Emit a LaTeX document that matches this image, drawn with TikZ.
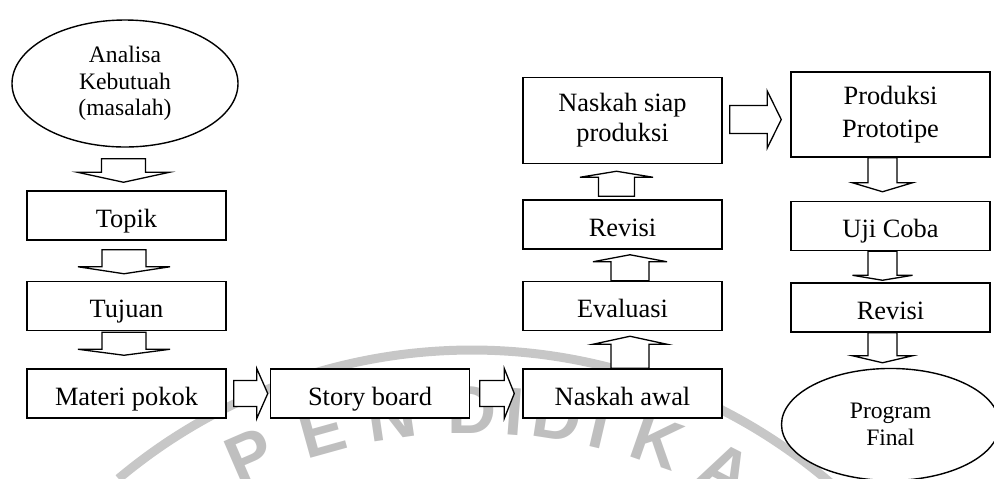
\documentclass[tikz,border=0pt]{standalone}
\usepackage{fontspec}
\setmainfont{Liberation Serif}
\newfontfamily\wmfont{Liberation Sans}
\usetikzlibrary{positioning,calc,shapes.geometric}

% block arrows: start point, tip point, stem half width, head half width, head length
\newcommand{\vblock}[5]{%
  \draw[blockarrow] let \p1 = (#1), \p2 = (#2), \n1 = {sign(\y2-\y1)} in
    (\x1-#3,\y1) -- (\x1+#3,\y1) -- (\x1+#3,\y2-\n1*#5) -- (\x1+#4,\y2-\n1*#5)
    -- (\x1,\y2) -- (\x1-#4,\y2-\n1*#5) -- (\x1-#3,\y2-\n1*#5) -- cycle;}
\newcommand{\hblock}[5]{%
  \draw[blockarrow] let \p1 = (#1), \p2 = (#2), \n1 = {sign(\x2-\x1)} in
    (\x1,\y1-#3) -- (\x1,\y1+#3) -- (\x2-\n1*#5,\y1+#3) -- (\x2-\n1*#5,\y1+#4)
    -- (\x2,\y1) -- (\x2-\n1*#5,\y1-#4) -- (\x2-\n1*#5,\y1-#3) -- cycle;}

\begin{document}
\begin{tikzpicture}[x=0.5pt, y=-0.5pt, node distance = 20pt, auto]
    \tikzstyle{box}        = [rectangle, minimum width = 99.5pt, minimum height = 24.5pt, inner sep = 0pt, text centered, align = center, draw = black, fill = white, line width = 0.75pt, font = \fontsize{13.2}{15}\selectfont]
    \tikzstyle{onebox}     = [box, text height = 14.7pt, text depth = 3pt]
    \tikzstyle{oval}       = [ellipse, minimum width = 113pt, minimum height = 63.5pt, inner sep = 0pt, text centered, align = center, draw = black, fill = white, line width = 0.7pt, font = \fontsize{11.8}{13.2}\selectfont]
    \tikzstyle{blockarrow} = [draw = black, fill = white, line width = 0.65pt, line join = miter]
    \tikzstyle{wring}      = [draw = black!22, line width = 4.5pt]
    \tikzstyle{wmark}      = [text = black!25, inner sep = 0pt, font = \wmfont\bfseries\fontsize{34}{34}\selectfont]

    \useasboundingbox (0,0) rectangle (994,478);

    % watermark in the background
    \coordinate (wc) at (472,900);
    \coordinate (tc) at (472,970);
    \draw[wring] (wc) ++(230:550) arc[start angle = 230, end angle = 312, radius = 550];
    \foreach \ch/\a [count=\i] in {P/23.4,E/15.5,N/8.3,D/0,I/-4.4,D/-8.8,I/-13.2,K/-19.3,A/-27}
        \node[wmark, rotate = \a] (wm\i) at ($(tc)+({-560*sin(\a)},{-560*cos(\a)})$) {\ch};

    \node[oval, execute at begin node = \rule{0pt}{13pt}] (analisa) at (125,83.5) {Analisa\\Kebutuah\\(masalah)};
    \node[onebox] (topik) at (126.5,215.5) {Topik};
    \node[onebox, below = 20pt of topik] (tujuan) {Tujuan};
    \node[onebox, below = 18.5pt of tujuan] (materi) {Materi pokok};
    \node[onebox, right = 21.5pt of materi] (story) {Story board};
    \node[onebox, right = 26pt of story] (awal) {Naskah awal};
    \node[onebox, above = 18.5pt of awal] (evaluasi) {Evaluasi};
    \node[onebox, above = 15.5pt of evaluasi] (revisiA) {Revisi};
    \node[box, above = 17.5pt of revisiA, minimum height = 43pt, execute at begin node = \rule{0pt}{14pt}] (siap) {Naskah siap\\produksi};
    \node[box, minimum height = 42.5pt, font = \fontsize{13.2}{16.5}\selectfont, execute at begin node = \rule{0pt}{16pt}] (produksi) at (890.5,114.5) {Produksi\\Prototipe};
    \node[onebox, below = 21.5pt of produksi] (uji) {Uji Coba};
    \node[onebox, below = 15.5pt of uji] (revisiB) {Revisi};
    \node[oval, below = 17.5pt of revisiB, minimum width = 109pt, minimum height = 56pt] (final) {Program\\Final};

    \vblock{$(analisa.south)+(-1.5,11)$}{$(topik.north)+(0,-8)$}{11pt}{23pt}{5pt}
    \vblock{$(topik.south)+(-2.5,9)$}{$(tujuan.north)+(0,-7)$}{11pt}{23pt}{3.5pt}
    \vblock{$(tujuan.south)+(-2.5,1)$}{$(materi.north)+(0,-13)$}{11pt}{23pt}{3pt}

    \hblock{$(materi.east)+(7,0)$}{$(story.west)+(-2,0)$}{6.5pt}{12.5pt}{5.5pt}
    \hblock{$(story.east)+(9.5,0)$}{$(awal.west)+(-8,0)$}{6.5pt}{12.5pt}{5pt}

    \vblock{$(awal.north)+(7.5,0)$}{$(evaluasi.south)+(0,5)$}{9.5pt}{18.5pt}{4pt}
    \vblock{$(evaluasi.north)+(7.5,0)$}{$(revisiA.south)+(0,5)$}{9.5pt}{18.5pt}{3.5pt}
    \vblock{$(revisiA.north)+(-6,-3)$}{$(siap.south)+(0,7)$}{9pt}{18.25pt}{3pt}

    \hblock{$(siap.east)+(7,-1)$}{$(produksi.west)+(-9,0)$}{7pt}{14.25pt}{7pt}

    \vblock{$(produksi.south)+(-8,0)$}{$(uji.north)+(0,-9)$}{7.25pt}{15pt}{4.5pt}
    \vblock{$(uji.south)+(-8,0)$}{$(revisiB.north)+(0,-2)$}{7.25pt}{15pt}{2.5pt}
    \vblock{$(revisiB.south)+(-8,0)$}{$(final.north)+(0,-5)$}{7.25pt}{15pt}{3.5pt}
\end{tikzpicture}
\end{document}
